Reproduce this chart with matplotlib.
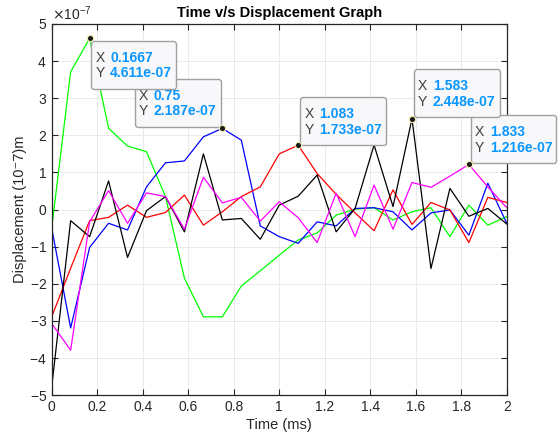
import numpy as np
import matplotlib
matplotlib.use("Agg")
import matplotlib.pyplot as plt
from matplotlib.ticker import ScalarFormatter
from matplotlib.offsetbox import TextArea, HPacker, VPacker, AnnotationBbox, DrawingArea

plt.rcParams['font.family'] = ['Liberation Sans', 'DejaVu Sans']
plt.rcParams['axes.unicode_minus'] = False

# time axis (ms), 25 samples
t = np.arange(25) / 12.0
scale = 1e-7

# displacement values in units of 1e-7 m
green = [-0.5, 3.71, 4.611, 2.19, 1.71, 1.56, 0.35, -1.85, -2.89, -2.89, -2.06, -1.65,
         -1.23, -0.82, -0.63, -0.15, 0.01, 0.05, -0.28, -0.06, 0.05, -0.73, 0.12, -0.42, -0.19]
blue = [-0.5, -3.19, -1.02, -0.37, -0.55, 0.61, 1.26, 1.31, 1.96, 2.187, 1.87, -0.44,
        -0.73, -0.91, -0.33, -0.44, 0.03, 0.05, -0.06, -0.55, -0.09, -0.01, -0.69, 0.71, -0.37]
red = [-2.89, -1.58, -0.3, -0.21, 0.12, -0.21, -0.08, 0.39, -0.42, -0.06, 0.35, 0.61,
       1.5, 1.733, 0.97, 0.41, -0.09, -0.57, 0.53, -0.4, 0.19, -0.01, -0.89, 0.33, 0.19]
black = [-4.78, -0.3, -0.73, 0.77, -1.29, -0.03, 0.35, -0.6, 1.5, -0.28, -0.24, -0.8,
         0.12, 0.36, 0.93, -0.6, 0.03, 1.74, 0.08, 2.448, -1.59, 0.57, -0.18, 0.03, -0.39]
magenta = [-3.07, -3.79, -0.33, 0.51, -0.37, 0.45, 0.35, -0.53, 0.87, 0.18, 0.33, -0.31,
           0.21, -0.22, -0.89, 0.44, -0.73, 0.66, -0.53, 0.73, 0.6, 0.9, 1.216, 0.61, 0.05]

series = [(green, '#00ff00'), (blue, '#0000ff'), (red, '#ff0000'),
          (black, '#000000'), (magenta, '#ff00ff')]

# datatips: (series index, sample index, box alignment, offset px)
tips = [(0, 2, (0, 1), (5.6, -6.7)),
        (1, 9, (1, 0), (-6, 5.6)),
        (2, 13, (0, 0), (6, 4)),
        (3, 19, (0, 0), (6, 5.6)),
        (4, 22, (0, 0), (6, 5.6))]

fig = plt.figure(figsize=(5.6, 4.41), dpi=100)
ax = fig.add_axes([0.0923, 0.104, 0.8127, 0.8416])

for vals, col in series:
    ax.plot(t, np.array(vals) * scale, color=col, lw=0.9)

ax.set_xlim(0, 2)
ax.set_ylim(-5e-7, 5e-7)
ax.set_xticks(np.arange(0, 2.01, 0.2))
ax.set_xticklabels(['0', '0.2', '0.4', '0.6', '0.8', '1', '1.2', '1.4', '1.6', '1.8', '2'])
ax.set_yticks(np.arange(-5, 6) * scale)
fmt = ScalarFormatter(useMathText=True)
fmt.set_powerlimits((0, 0))
ax.yaxis.set_major_formatter(fmt)
ax.yaxis.get_offset_text().set_fontsize(10)
ax.yaxis.get_offset_text().set_color('#262626')

ax.grid(True, color='#e6e6e6', lw=0.6)
ax.set_axisbelow(True)
ax.tick_params(direction='in', length=4, width=0.8, top=True, right=True,
               labelsize=10, colors='#262626')
for sp in ax.spines.values():
    sp.set_color('#262626')
    sp.set_linewidth(0.9)

ax.set_title('Time v/s Displacement Graph', fontsize=10.5, fontweight='bold', pad=5)
ax.set_xlabel('Time (ms)', fontsize=10.5, color='#262626', labelpad=3)
ax.set_ylabel('Displacement (10\u207b7)m', fontsize=10.5, color='#262626', labelpad=2)

tip_blue = '#0a96ff'


def tip_row(name, value):
    return HPacker(children=[TextArea(name, textprops=dict(color='#404040', size=10)),
                             TextArea(value, textprops=dict(color=tip_blue, size=10,
                                                            weight='bold'))],
                   sep=4, pad=0, align='baseline')


for i, (si, k, align, off) in enumerate(tips):
    vals, col = series[si]
    xv, yv = t[k], vals[k] * scale
    ax.plot(xv, yv, 'o', ms=4.5, mfc='#1a1a1a', mec='#f5f0b0', mew=0.8, zorder=8,
            clip_on=False)
    box = VPacker(children=[DrawingArea(1, 3.1), tip_row('X', f'{xv:.4g}'),
                            tip_row('Y', f'{yv:.4g}'), DrawingArea(1, 2)],
                  sep=1.1, pad=0, align='left')
    ab = AnnotationBbox(box, (xv, yv), xybox=off, xycoords='data',
                        boxcoords='offset pixels', box_alignment=align,
                        pad=0.3, frameon=True, annotation_clip=False,
                        bboxprops=dict(boxstyle='round,pad=0.3,rounding_size=0.2',
                                       fc='#f8f8fb', ec='#a0a0a0', lw=1.0))
    ab.set_zorder(7.5 - 0.1 * i)
    ax.add_artist(ab)

fig.savefig('out.png', dpi=100)
